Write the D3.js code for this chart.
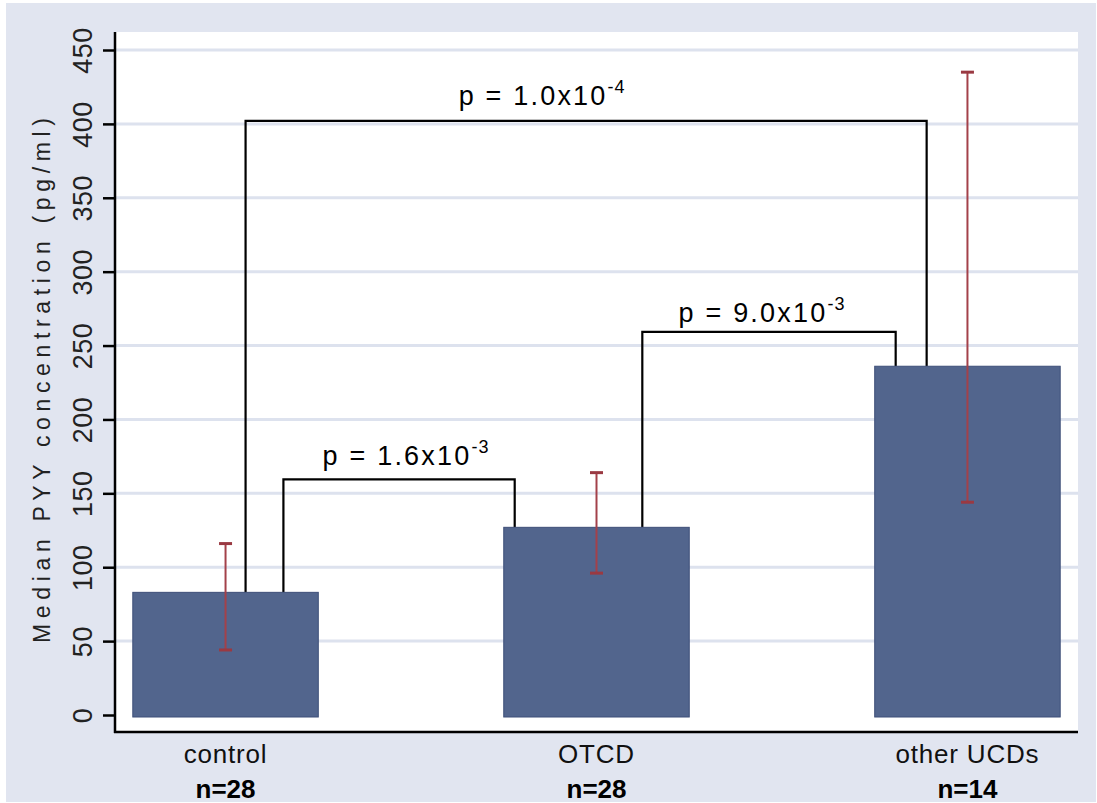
<!DOCTYPE html>
<html>
<head>
<meta charset="utf-8">
<script src="https://cdn.jsdelivr.net/npm/d3@7"></script>
<style>
  html, body { margin: 0; padding: 0; background: #ffffff; }
  svg { display: block; }
  text { font-family: "Liberation Sans", Arial, sans-serif; }
</style>
</head>
<body>
<svg id="chart" width="1097" height="803"></svg>
<script>
// ---- data ----
const categories = ["control", "OTCD", "other UCDs"];
const sampleSizes = ["n=28", "n=28", "n=14"];
const medians = [83, 127, 236];
const errLow = [44, 96, 144];
const errHigh = [116, 164, 435];
const yTicks = [0, 50, 100, 150, 200, 250, 300, 350, 400, 450];
const yTitle = "Median PYY concentration (pg/ml)";
const bracketFrom = [0, 1, 0];
const bracketTo = [1, 2, 2];
const bracketHeight = [159.5, 259.3, 402];
const pMantissa = ["p = 1.6x10", "p = 9.0x10", "p = 1.0x10"];
const pExponent = ["-3", "-3", "-4"];

// ---- layout (not data) ----
const legFrac = [[0.812, 0.059], [0.747, 0.113], [0.608, 0.28]];
const labelDx = [7, -7, -44];
const labelGap = [14, 10, 16];

const svg = d3.select("#chart");
const plot = { left: 115, right: 1078, top: 32, bottom: 732 };

// background
svg.append("rect").attr("x", 6).attr("y", 3).attr("width", 1090).attr("height", 799)
  .attr("fill", "#e1e5f0");
svg.append("rect").attr("x", plot.left).attr("y", plot.top)
  .attr("width", plot.right - plot.left).attr("height", plot.bottom - plot.top)
  .attr("fill", "#ffffff");

const x = d3.scaleBand().domain(categories).range([plot.left, plot.right])
  .paddingInner(0.5).paddingOuter(0.048);
const y = d3.scaleLinear().domain([0, 450]).range([715, 50]);

// gridlines
svg.append("g").selectAll("line").data(yTicks.filter(d => d > 0)).join("line")
  .attr("x1", plot.left + 1).attr("x2", plot.right)
  .attr("y1", d => y(d)).attr("y2", d => y(d))
  .attr("stroke", "#dde2ee").attr("stroke-width", 3);

// y axis
const yAxis = svg.append("g").attr("transform", `translate(${plot.left},0)`)
  .call(d3.axisLeft(y).tickValues(yTicks).tickSize(12).tickFormat(d3.format("d")));
yAxis.select(".domain").remove();
yAxis.selectAll(".tick line").attr("stroke", "#000").attr("stroke-width", 2.5);
yAxis.selectAll(".tick text")
  .attr("transform", "rotate(-90)")
  .attr("x", 0).attr("y", -23).attr("dy", 0)
  .attr("text-anchor", "middle")
  .attr("font-size", 27).attr("fill", "#222")
  .attr("letter-spacing", 0.5)
  .style("font-family", "'Liberation Sans', Arial, sans-serif");

// y title
svg.append("text")
  .attr("transform", `translate(50,${(118 + 643) / 2}) rotate(-90)`)
  .attr("text-anchor", "middle")
  .attr("font-size", 23).attr("fill", "#222")
  .attr("textLength", 525).attr("lengthAdjust", "spacing")
  .text(yTitle);

// brackets
const bracketG = svg.append("g");
bracketFrom.forEach((f, i) => {
  const t = bracketTo[i];
  const x1 = x(categories[f]) + legFrac[i][0] * x.bandwidth();
  const x2 = x(categories[t]) + legFrac[i][1] * x.bandwidth();
  const yt = y(bracketHeight[i]);
  const path = d3.path();
  path.moveTo(x1, y(medians[f]));
  path.lineTo(x1, yt);
  path.lineTo(x2, yt);
  path.lineTo(x2, y(medians[t]));
  bracketG.append("path").attr("d", path.toString())
    .attr("fill", "none").attr("stroke", "#000").attr("stroke-width", 2.2)
    .attr("stroke-linejoin", "miter");
  const txt = bracketG.append("text")
    .attr("x", (x1 + x2) / 2 + labelDx[i]).attr("y", yt - labelGap[i])
    .attr("text-anchor", "middle").attr("font-size", 27).attr("fill", "#000")
    .attr("letter-spacing", 2.2);
  txt.append("tspan").text(pMantissa[i]);
  txt.append("tspan").attr("font-size", 18).attr("dy", -12).attr("letter-spacing", 1).text(pExponent[i]);
});

// bars
svg.append("g").selectAll("rect").data(categories).join("rect")
  .attr("x", d => x(d)).attr("width", x.bandwidth())
  .attr("y", (d, i) => y(medians[i])).attr("height", (d, i) => y(0) - y(medians[i]) + 2)
  .attr("fill", "#52658d").attr("stroke", "#3d4e78").attr("stroke-width", 1);

// error bars
const errG = svg.append("g");
categories.forEach((c, i) => {
  const cx = x(c) + x.bandwidth() / 2;
  errG.append("line").attr("x1", cx).attr("x2", cx)
    .attr("y1", y(errLow[i])).attr("y2", y(errHigh[i]))
    .attr("stroke", "#a3414a").attr("stroke-width", 2);
  [errLow[i], errHigh[i]].forEach(v => {
    errG.append("line").attr("x1", cx - 6.5).attr("x2", cx + 6.5)
      .attr("y1", y(v)).attr("y2", y(v))
      .attr("stroke", "#9a3942").attr("stroke-width", 3);
  });
});

// axis lines
svg.append("line").attr("x1", plot.left).attr("x2", plot.left)
  .attr("y1", plot.top).attr("y2", plot.bottom + 1)
  .attr("stroke", "#000").attr("stroke-width", 2.5);
svg.append("line").attr("x1", plot.left - 1).attr("x2", plot.right)
  .attr("y1", plot.bottom).attr("y2", plot.bottom)
  .attr("stroke", "#000").attr("stroke-width", 2.5);

// x labels
const xl = svg.append("g");
categories.forEach((c, i) => {
  const cx = x(c) + x.bandwidth() / 2;
  xl.append("text").attr("x", cx).attr("y", 763)
    .attr("text-anchor", "middle").attr("font-size", 26).attr("fill", "#111")
    .attr("letter-spacing", 0.8).text(c);
  xl.append("text").attr("x", cx).attr("y", 798)
    .attr("text-anchor", "middle").attr("font-size", 26).attr("font-weight", "bold")
    .attr("fill", "#000").text(sampleSizes[i]);
});
</script>
</body>
</html>
